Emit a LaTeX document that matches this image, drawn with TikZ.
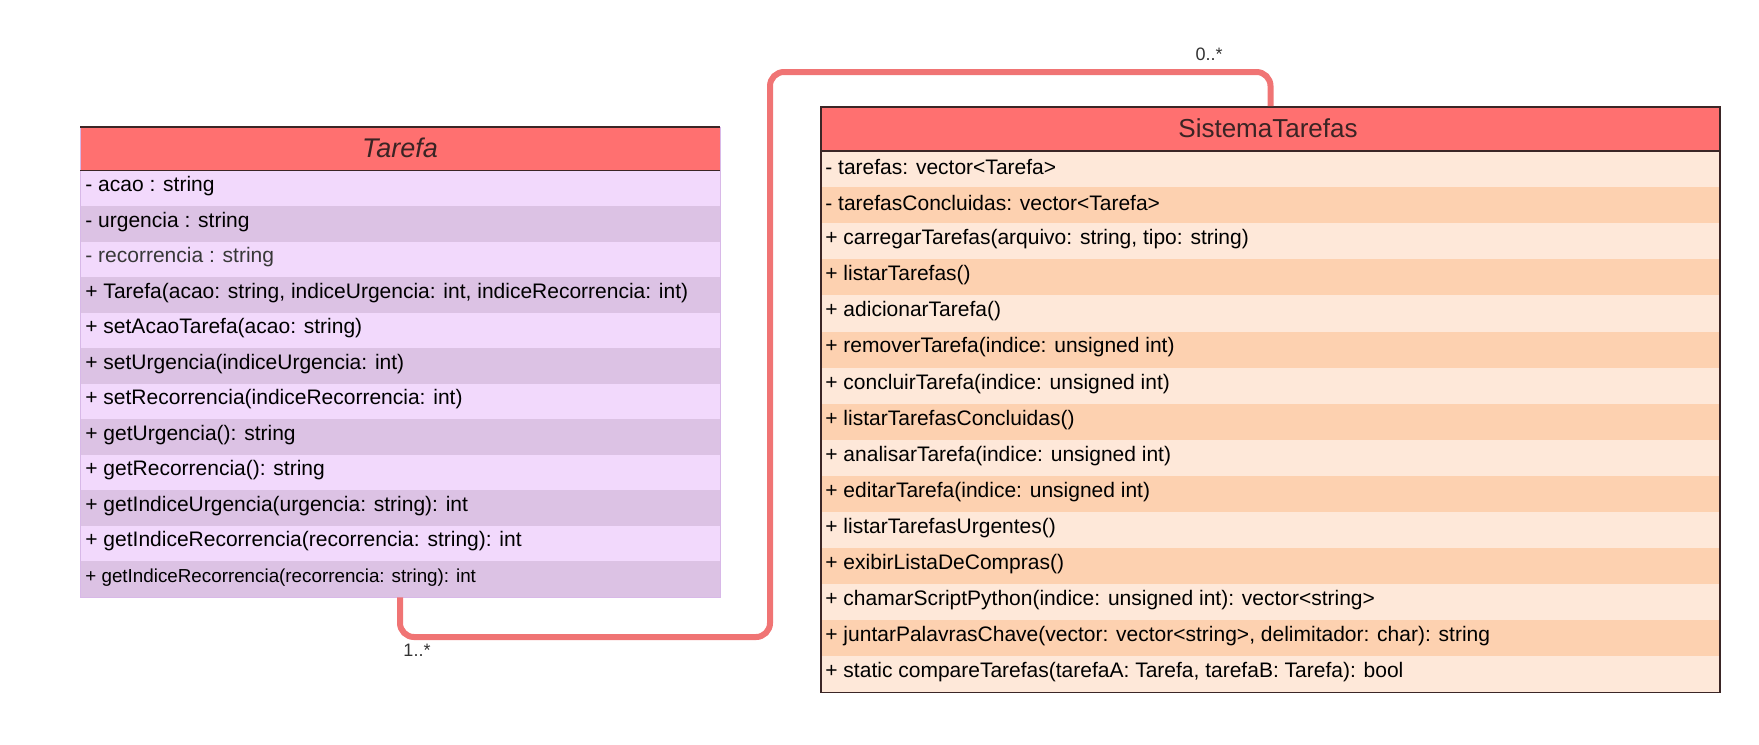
\documentclass[tikz,border=0pt]{standalone}
\usepackage{fontspec}
\setmainfont{Liberation Sans}
\definecolor{hdrred}{HTML}{FF7070}
\definecolor{hdrtext}{HTML}{3A2424}
\definecolor{lilaclight}{HTML}{F2D9FC}
\definecolor{lilacdark}{HTML}{DCC2E4}
\definecolor{lilacline}{HTML}{D8B8E8}
\definecolor{peachlight}{HTML}{FEE8D9}
\definecolor{peachdark}{HTML}{FDD1B0}
\definecolor{boxline}{HTML}{3B2626}
\definecolor{assocred}{HTML}{F07474}
\tikzset{
  rowtxt/.style={anchor=west,inner sep=0pt,font=\fontsize{10.5}{12}\selectfont},
  mult/.style={text=black!80,font=\fontsize{9}{11}\selectfont}
}
\begin{document}
\begin{tikzpicture}[x=0.5pt,y=-0.5pt]
	\useasboundingbox (0,0) rectangle (1759,744);
	% class Tarefa
	\fill [hdrred] (80,127) rectangle (720,170.5);
	\foreach \txt [count=\i] in {{- acao : string},{- urgencia : string},{\color{black!78}- recorrencia : string},
		{+ Tarefa(acao: string, indiceUrgencia: int, indiceRecorrencia: int)},{+ setAcaoTarefa(acao: string)},
		{+ setUrgencia(indiceUrgencia: int)},{+ setRecorrencia(indiceRecorrencia: int)},{+ getUrgencia(): string},
		{+ getRecorrencia(): string},{+ getIndiceUrgencia(urgencia: string): int},
		{+ getIndiceRecorrencia(recorrencia: string): int}} {
		\ifodd\i \def\rowfill{lilaclight}\else \def\rowfill{lilacdark}\fi
		\fill [\rowfill] (80,135+35.5*\i) rectangle (720,170.5+35.5*\i);
		\node [rowtxt] (ta\i) at (85,150.75+35.5*\i) {\txt};
	}
	\fill [lilacdark] (80,561) rectangle (720,596.5);
	\node [rowtxt,font=\fontsize{9.4}{11}\selectfont] (ta12) at (85,577.5) {+ getIndiceRecorrencia(recorrencia: string): int};
	\node [draw=lilacline,inner sep=0pt,minimum width=320pt,minimum height=235pt] (tarefa) at (400,362) {};
	\draw [boxline,line width=0.8pt] (80,127) -- (720,127) (80,170.5) -- (720,170.5);
	\node [font=\fontsize{13.5}{15}\selectfont\itshape,text=hdrtext] (tarefaname) at (400,148) {Tarefa};
	% class SistemaTarefas
	\fill [hdrred] (821,107) rectangle (1720,151);
	\foreach \txt [count=\i] in {{- tarefas: vector<Tarefa>},{- tarefasConcluidas: vector<Tarefa>},
		{+ carregarTarefas(arquivo: string, tipo: string)},{+ listarTarefas()},{+ adicionarTarefa()},
		{+ removerTarefa(indice: unsigned int)},{+ concluirTarefa(indice: unsigned int)},
		{+ listarTarefasConcluidas()},{+ analisarTarefa(indice: unsigned int)},
		{+ editarTarefa(indice: unsigned int)},{+ listarTarefasUrgentes()},{+ exibirListaDeCompras()},
		{+ chamarScriptPython(indice: unsigned int): vector<string>},
		{+ juntarPalavrasChave(vector: vector<string>, delimitador: char): string},
		{+ static compareTarefas(tarefaA: Tarefa, tarefaB: Tarefa): bool}} {
		\ifodd\i \def\rowfill{peachlight}\else \def\rowfill{peachdark}\fi
		\fill [\rowfill] (821,114.9+36.1*\i) rectangle (1720,151+36.1*\i);
		\node [rowtxt] (st\i) at (825,130.95+36.1*\i) {\txt};
	}
	\node [draw=boxline,line width=0.8pt,inner sep=0pt,minimum width=449.5pt,minimum height=292.75pt] (sistema) at (1270.5,399.75) {};
	\draw [boxline,line width=1.2pt] (821,151) -- (1720,151);
	\node [font=\fontsize{13}{15}\selectfont,text=hdrtext] (sistemaname) at (1268,128) {SistemaTarefas};
	% association
	\coordinate (bendlow) at (770,637);
	\coordinate (bendhigh) at (770,72);
	\draw [assocred,line width=3pt,rounded corners=7pt] (tarefa.south) |- (bendlow) -- (bendhigh) -| (sistema.north);
	\node [mult] (manyta) at (417,650) {1..*};
	\node [mult] (manyst) at (1209,54) {0..*};
\end{tikzpicture}
\end{document}
